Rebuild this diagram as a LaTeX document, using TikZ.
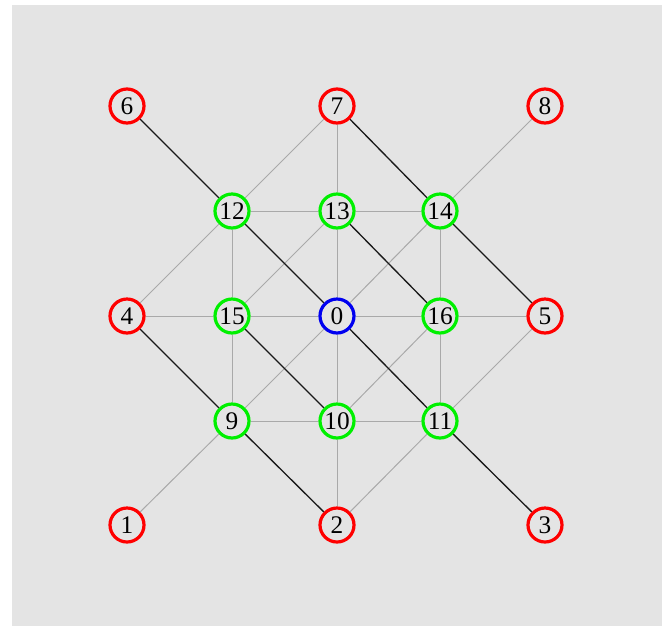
\documentclass[tikz,border=0pt]{standalone}
\usepackage{fontspec}
\setmainfont{Liberation Serif}
\usepackage{xcolor}
\usepackage{tikz}
\usetikzlibrary{positioning}

\definecolor{bggray}{HTML}{E4E4E4}
\definecolor{edgegray}{HTML}{A9A9A9}
\definecolor{ringred}{HTML}{FF0000}
\definecolor{ringgreen}{HTML}{00F000}
\definecolor{ringblue}{HTML}{0000F0}

\begin{document}
\begin{tikzpicture}[
    x=0.75pt, y=-0.75pt,
    vertex/.style={circle, draw, line width=2.4pt, fill=bggray, minimum size=25.5pt, inner sep=0pt, font=\fontsize{19}{20}\selectfont},
    outer/.style={vertex, draw=ringred},
    inner/.style={vertex, draw=ringgreen},
    centre/.style={vertex, draw=ringblue},
    thin/.style={draw=edgegray, line width=0.75pt},
    thick/.style={draw=black!90, line width=1pt}
]
% Canvas and grey panel.
\useasboundingbox (0,0) rectangle (668,626);
\fill[bggray] (12,5) rectangle (662,626);

% Outer ring of vertices.
\node[outer] (v6) at (127,106) {6};
\node[outer] (v7) at (337,106) {7};
\node[outer] (v8) at (545,106) {8};
\node[outer] (v4) at (127,316) {4};
\node[outer] (v5) at (545,316) {5};
\node[outer] (v1) at (127,525) {1};
\node[outer] (v2) at (337,525) {2};
\node[outer] (v3) at (545,525) {3};

% Inner square of vertices.
\node[inner] (v12) at (232,211) {12};
\node[inner] (v13) at (337,211) {13};
\node[inner] (v14) at (440,211) {14};
\node[inner] (v15) at (232,316) {15};
\node[inner] (v16) at (440,316) {16};
\node[inner] (v9)  at (232,421) {9};
\node[inner] (v10) at (337,421) {10};
\node[inner] (v11) at (440,421) {11};

% Centre vertex.
\node[centre] (v0) at (337,316) {0};

% Light edges.
\draw[thin] (v7) -- (v12);
\draw[thin] (v7) -- (v13);
\draw[thin] (v8) -- (v14);
\draw[thin] (v12) -- (v13);
\draw[thin] (v13) -- (v14);
\draw[thin] (v4) -- (v12);
\draw[thin] (v12) -- (v15);
\draw[thin] (v13) -- (v15);
\draw[thin] (v13) -- (v0);
\draw[thin] (v14) -- (v0);
\draw[thin] (v14) -- (v16);
\draw[thin] (v4) -- (v15);
\draw[thin] (v15) -- (v0);
\draw[thin] (v0) -- (v16);
\draw[thin] (v16) -- (v5);
\draw[thin] (v15) -- (v9);
\draw[thin] (v0) -- (v9);
\draw[thin] (v0) -- (v10);
\draw[thin] (v16) -- (v10);
\draw[thin] (v16) -- (v11);
\draw[thin] (v5) -- (v11);
\draw[thin] (v9) -- (v10);
\draw[thin] (v10) -- (v11);
\draw[thin] (v9) -- (v1);
\draw[thin] (v10) -- (v2);
\draw[thin] (v11) -- (v2);

% Dark diagonal edges.
\draw[thick] (v6) -- (v12);
\draw[thick] (v12) -- (v0);
\draw[thick] (v0) -- (v11);
\draw[thick] (v11) -- (v3);
\draw[thick] (v7) -- (v14);
\draw[thick] (v14) -- (v5);
\draw[thick] (v13) -- (v16);
\draw[thick] (v15) -- (v10);
\draw[thick] (v4) -- (v9);
\draw[thick] (v9) -- (v2);

\end{tikzpicture}
\end{document}
